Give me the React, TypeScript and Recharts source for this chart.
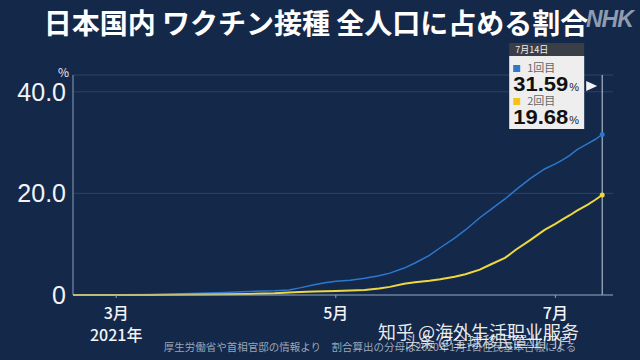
import { LineChart, Line, XAxis, YAxis, CartesianGrid, ReferenceLine } from "recharts";

// days counted from 2021-02-17 (start of vaccination)
const days = [0, 7, 14, 21, 28, 35, 42, 49, 56, 60, 63, 67, 70, 73, 77, 81, 85, 88, 92, 95, 99, 102, 106, 109, 113, 116, 120, 123, 127, 131, 134, 136, 138, 140, 143, 145, 147];
const firstDose = [0, 0.01, 0.05, 0.1, 0.2, 0.35, 0.5, 0.7, 0.85, 1.0, 1.4, 2.0, 2.4, 2.7, 2.9, 3.3, 3.8, 4.3, 5.3, 6.3, 7.8, 9.3, 11.2, 12.8, 15.2, 16.8, 18.9, 20.7, 22.9, 24.8, 25.8, 26.6, 27.5, 28.6, 29.8, 30.6, 31.59];
const secondDose = [0, 0, 0, 0.01, 0.05, 0.1, 0.15, 0.2, 0.35, 0.5, 0.6, 0.7, 0.75, 0.8, 0.9, 1.0, 1.3, 1.6, 2.2, 2.5, 2.8, 3.1, 3.6, 4.1, 5.0, 6.0, 7.3, 8.9, 10.8, 12.8, 14.0, 14.9, 15.7, 16.6, 17.8, 18.7, 19.68];

const monthTicks = [12, 73, 134];
const monthLabels = ["3月", "5月", "7月"];
const yTicks = [0, 20, 40];
const yLabels = ["0", "20.0", "40.0"];

const lastDay = 147;
const lastDate = "7月14日";
const firstLabel = "1回目";
const secondLabel = "2回目";

const BG = "#14284a";
const BLUE = "#2d78cc";
const YELLOW = "#eed83f";
const FONT = "'Noto Sans CJK JP', 'Noto Sans', sans-serif";
const NUM = "'Liberation Sans', Arial, sans-serif";

const data = days.map((d, i) => ({ day: d, first: firstDose[i], second: secondDose[i] }));

function XTick({ x, y, payload }: any) {
  const i = monthTicks.indexOf(payload.value);
  return (
    <g>
      <line x1={x} x2={x} y1={y - 8} y2={y - 5} stroke="#8aa0bd" />
      <text x={x} y={y + 16} textAnchor="middle" fill="#f2f4f8" fontSize={16} fontWeight={500} fontFamily={FONT}>
        {monthLabels[i]}
      </text>
      {i === 0 && (
        <text x={x} y={y + 38} textAnchor="middle" fill="#f2f4f8" fontSize={16} fontWeight={500} fontFamily={FONT}>
          2021年
        </text>
      )}
    </g>
  );
}

function YTick({ x, y, payload }: any) {
  const i = yTicks.indexOf(payload.value);
  return (
    <text x={x + 1} y={y + 9} textAnchor="end" fill="#f2f4f8" fontSize={25} fontFamily={NUM}>
      {yLabels[i]}
    </text>
  );
}

function EndDot(color: string) {
  return (props: any) =>
    props.index === data.length - 1 ? (
      <circle key="end" cx={props.cx} cy={props.cy} r={2.5} fill={color} />
    ) : (
      <g key={props.index} />
    );
}

function Callout({ viewBox }: any) {
  const x = viewBox.x;
  const left = x - 93;
  return (
    <g>
      <rect x={left} y={43} width={75} height={13} fill="#3a3e46" />
      <text x={left + 6} y={53} fill="#f0f0f0" fontSize={9} fontFamily={FONT}>
        {lastDate}
      </text>
      <rect x={left} y={56} width={75} height={73} fill="#eeeeef" />
      <rect x={left + 4} y={65} width={7} height={7} fill={BLUE} />
      <text x={left + 18} y={72} fill="#666" fontSize={11} fontFamily={FONT}>
        {firstLabel}
      </text>
      <text x={left + 4} y={91} fill="#111" fontSize={20} fontWeight="bold" fontFamily={NUM} textLength={55} lengthAdjust="spacingAndGlyphs">
        {firstDose[firstDose.length - 1].toFixed(2)}
      </text>
      <text x={left + 60} y={91} fill="#222" fontSize={11} fontFamily={NUM}>%</text>
      <rect x={left + 4} y={98} width={7} height={7} fill="#f5c21a" />
      <text x={left + 18} y={105} fill="#666" fontSize={11} fontFamily={FONT}>
        {secondLabel}
      </text>
      <text x={left + 4} y={124} fill="#111" fontSize={20} fontWeight="bold" fontFamily={NUM} textLength={55} lengthAdjust="spacingAndGlyphs">
        {secondDose[secondDose.length - 1].toFixed(2)}
      </text>
      <text x={left + 60} y={124} fill="#222" fontSize={11} fontFamily={NUM}>%</text>
      <path d={`M ${x - 16} ${81} L ${x - 5} ${86} L ${x - 16} ${91} Z`} fill="#f4f4f4" />
    </g>
  );
}

export default function App() {
  return (
    <div style={{ position: "absolute", left: 0, top: 0, width: 640, height: 360, background: BG, overflow: "hidden", fontFamily: FONT }}>
      <LineChart width={640} height={360} data={data} margin={{ top: 75, right: 27, bottom: 0, left: 0 }}>
        <CartesianGrid vertical={false} stroke="#2c4265" />
        <XAxis
          dataKey="day"
          type="number"
          domain={[0, 150]}
          ticks={monthTicks}
          tick={<XTick />}
          tickLine={false}
          height={65}
          stroke="#8aa0bd"
          interval={0}
        />
        <YAxis
          type="number"
          domain={[0, 43.3]}
          ticks={yTicks}
          tick={<YTick />}
          tickLine={false}
          width={73}
          stroke="#8aa0bd"
          interval={0}
        />
        <ReferenceLine x={lastDay} stroke="#c9d1dd" strokeWidth={1} label={<Callout />} />
        <Line type="linear" dataKey="first" stroke={BLUE} strokeWidth={1.5} dot={EndDot(BLUE)} isAnimationActive={false} />
        <Line type="linear" dataKey="second" stroke={YELLOW} strokeWidth={2} dot={EndDot(YELLOW)} isAnimationActive={false} />
      </LineChart>
      <div style={{ position: "absolute", left: 58, top: 63, color: "#e8ecf2", fontSize: 12 }}>%</div>
      <div style={{ position: "absolute", left: 0, width: 632, top: 2, textAlign: "center", color: "#ffffff", fontSize: 28, fontWeight: "bold", whiteSpace: "nowrap" }}>
        日本国内 ワクチン接種 全人口に占める割合
      </div>
      <div style={{ position: "absolute", left: 586, top: 6, color: "#8e9bb0", fontSize: 23, fontWeight: 900, fontStyle: "italic", fontFamily: NUM, letterSpacing: -1 }}>
        NHK
      </div>
      <div style={{ position: "absolute", left: 0, width: 740, top: 339, textAlign: "center", color: "#9aa6b8", fontSize: 10.5, whiteSpace: "nowrap" }}>
        厚生労働省や首相官邸の情報より　割合算出の分母は2020年1月1日住民基本台帳による
      </div>
      <div style={{ position: "absolute", left: 378, top: 318, color: "rgba(255,255,255,0.92)", fontSize: 18, whiteSpace: "nowrap" }}>
        知乎 @海外生活职业服务
      </div>
      <div style={{ position: "absolute", left: 405, top: 330, color: "rgba(255,255,255,0.75)", fontSize: 15, whiteSpace: "nowrap" }}>
        头条 @全球移民置业门户
      </div>
    </div>
  );
}
